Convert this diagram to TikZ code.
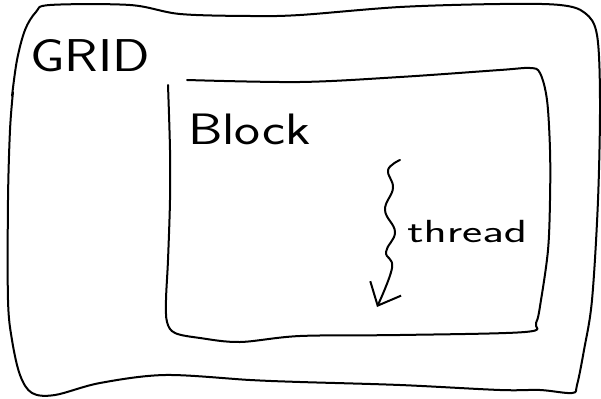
\documentclass[tikz,border=0pt]{standalone}
\usetikzlibrary{arrows.meta}
\tikzset{
  sketch/.style={line width=2pt, line cap=round, line join=round, black},
  hand/.style={font=\sffamily, inner sep=0pt, anchor=south west}
}
\begin{document}
\begin{tikzpicture}[x=1pt,y=-1pt]
\useasboundingbox (0,0) rectangle (601,398);
% outer box (GRID)
\draw[sketch] plot[smooth, tension=0.55] coordinates {
 (12,96) (17,60) (25,30) (36,12) (50,5) (130,5) (180,14) (250,16) (300,15)
 (400,7) (500,4) (560,5) (585,13) (597,35) (600,100) (598,200) (592,300)
 (584,350) (577,385) (572,393) (540,390) (500,390) (400,385) (300,382)
 (250,380) (165,375) (100,383) (55,395) (32,393) (20,375) (12,340) (8,300)
 (8,200) (10,130) (13,92)};
% inner box (Block)
\draw[sketch] plot[smooth, tension=0.55] coordinates {
 (187,80) (300,82) (400,77) (500,70) (530,68) (540,73) (547,100) (550,150)
 (550,200) (548,250) (541,300) (536,323) (525,332) (400,335) (300,336)
 (240,342) (200,338) (175,333) (167,322) (166,300) (168,260) (170,200)
 (170,150) (168,85)};
% labels
\node[hand, font=\sffamily\fontsize{46}{46}\selectfont, xscale=1.2] (grid) at (30,72) {GRID};
\node[hand, font=\sffamily\fontsize{44}{44}\selectfont, xscale=1.25] (block) at (188,145) {Block};
\node[hand, font=\sffamily\fontsize{32}{32}\selectfont, xscale=1.5] (thread) at (407,243) {thread};
% thread arrow
\coordinate (ts) at (400,160);
\coordinate (te) at (377,307);
\draw[sketch, -{Straight Barb[length=19pt,width=34pt,line width=2pt]}]
 plot[smooth, tension=0.7] coordinates {
 (ts) (388,170) (393,188) (385,210) (395,232) (386,252) (392,268) (te)};
\end{tikzpicture}
\end{document}
